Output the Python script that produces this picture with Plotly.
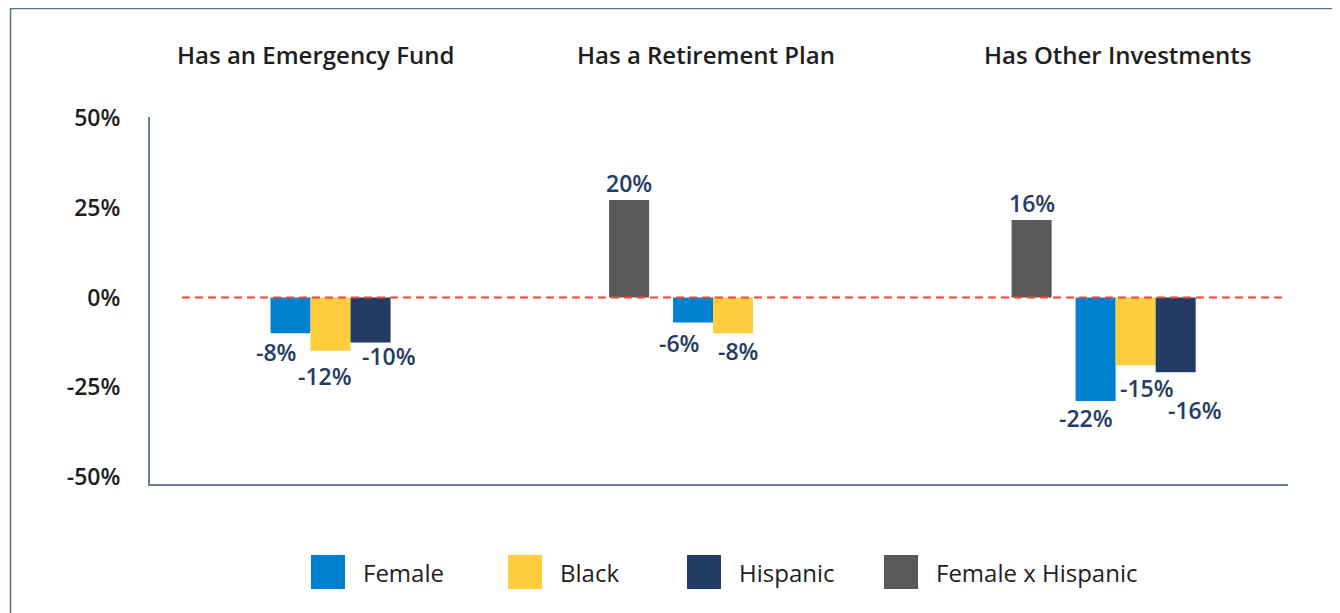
import plotly.graph_objects as go

# ---------------- data ----------------
categories = ["Has an Emergency Fund", "Has a Retirement Plan", "Has Other Investments"]
series_names = ["Female", "Black", "Hispanic", "Female x Hispanic"]

female_vals = [-10.0, -7.0, -28.9]
black_vals = [-14.9, -10.0, -18.9]
hispanic_vals = [-12.6, None, -20.9]
fxh_vals = [None, 27.2, 21.6]

female_labels = ["-8%", "-6%", "-22%"]
black_labels = ["-12%", "-8%", "-15%"]
hispanic_labels = ["-10%", None, "-16%"]
fxh_labels = [None, "20%", "16%"]

y_ticks = [-50, -25, 0, 25, 50]
y_tick_text = ["-50%", "-25%", "0%", "25%", "50%"]

# ---------------- style ----------------
PAGE_OFF = 8  # browser body margin
W, H = 1340, 613
ML, MR, MT, MB = 142, 60, 109, 137
PW, PH = W - ML - MR, H - MT - MB
FONT = "Open Sans"
colors = {"Female": "#0081CF", "Black": "#FFCD3E", "Hispanic": "#233C64",
          "Female x Hispanic": "#595959"}
label_color = "#233C64"
text_color = "#1E1E1E"
axis_color = "#6B7E9B"

X_RANGE = [-0.369, 2.458]
Y_RANGE = [-52.1, 50.4]
BAR_W = 0.0994
offsets = {"Female x Hispanic": -0.2286, "Female": -0.0696, "Black": 0.0298, "Hispanic": 0.1292}

# label pixel shifts (dx right, dy down) relative to bar end, per series/category
label_shift = {
    "Female": [(-15, 19), (-14, 20), (-10, 17)],
    "Black": [(-6, 25), (5, 18), (11, 23)],
    "Hispanic": [(18, 13), (0, 0), (19, 38)],
    "Female x Hispanic": [(0, 0), (0, -17), (0, -17)],
}

def px_x(p):
    return (p - PAGE_OFF - ML) / PW

def px_y(p):
    return (MT + PH - (p - PAGE_OFF)) / PH

fig = go.Figure()
series_vals = {"Female": female_vals, "Black": black_vals, "Hispanic": hispanic_vals,
               "Female x Hispanic": fxh_vals}
series_labels = {"Female": female_labels, "Black": black_labels, "Hispanic": hispanic_labels,
                 "Female x Hispanic": fxh_labels}

for name in ["Female x Hispanic", "Female", "Black", "Hispanic"]:
    fig.add_trace(go.Bar(
        x=categories, y=series_vals[name], name=name,
        marker=dict(color=colors[name], line=dict(width=0)),
        width=BAR_W, offset=offsets[name], showlegend=False,
    ))

annotations = []
for name in series_names:
    for i, (v, lab) in enumerate(zip(series_vals[name], series_labels[name])):
        if v is None or lab is None:
            continue
        dx, dy = label_shift[name][i]
        annotations.append(dict(
            x=i + offsets[name] + BAR_W / 2, y=v, xref="x", yref="y",
            text=lab, showarrow=False, xanchor="center", yanchor="middle",
            xshift=dx, yshift=-dy,
            font=dict(family=FONT, size=23, color=label_color, weight=600),
        ))

# category titles
title_px = [315, 706, 1117]
for c, px in zip(categories, title_px):
    annotations.append(dict(
        x=px_x(px), y=px_y(55), xref="paper", yref="paper", text=c, showarrow=False,
        xanchor="center", yanchor="middle",
        font=dict(family=FONT, size=24, color=text_color, weight=600),
    ))

shapes = []
# zero reference line
shapes.append(dict(type="line", xref="paper", yref="y", x0=px_x(182), x1=px_x(1283), y0=0, y1=0,
                   line=dict(color="#F2473A", width=2, dash="8px,5px")))
# outer border (top & left visible)
shapes.append(dict(type="rect", xref="paper", yref="paper", x0=px_x(10.5), x1=px_x(1400),
                   y0=px_y(700), y1=px_y(8.5), line=dict(color="#5B6E8F", width=1.5)))

# legend
legend_sq = [311, 508, 687, 884]
for name, sx in zip(series_names, legend_sq):
    shapes.append(dict(type="rect", xref="paper", yref="paper", x0=px_x(sx), x1=px_x(sx + 34),
                       y0=px_y(589), y1=px_y(555), fillcolor=colors[name], line=dict(width=0)))
    annotations.append(dict(
        x=px_x(sx + 50), y=px_y(572), xref="paper", yref="paper", text=name, showarrow=False,
        xanchor="left", yanchor="middle",
        font=dict(family=FONT, size=24, color=text_color, weight=500),
    ))

fig.update_layout(
    width=W, height=H, margin=dict(l=ML, r=MR, t=MT, b=MB),
    paper_bgcolor="white", plot_bgcolor="white", barmode="overlay",
    showlegend=False, annotations=annotations, shapes=shapes,
    font=dict(family=FONT, color=text_color),
)
fig.update_xaxes(type="category", range=X_RANGE, showticklabels=False, ticks="",
                 showgrid=False, zeroline=False, showline=True, linecolor=axis_color, linewidth=2)
fig.update_yaxes(range=Y_RANGE, tickvals=y_ticks, ticktext=y_tick_text, ticks="",
                 showgrid=False, zeroline=False, showline=True, linecolor=axis_color, linewidth=2,
                 ticklabelstandoff=23,
                 tickfont=dict(family=FONT, size=23, color=text_color, weight=600))

fig.write_html("out.html")
